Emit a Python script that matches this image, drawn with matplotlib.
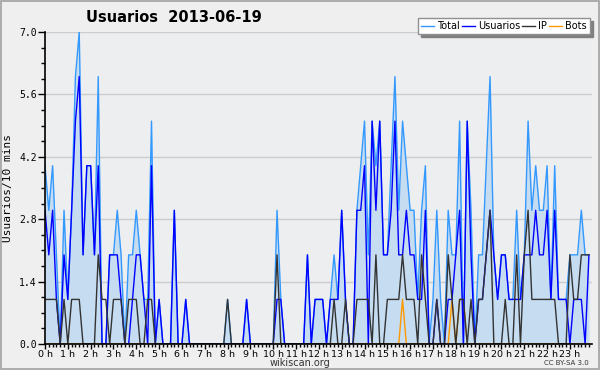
import matplotlib
matplotlib.use("Agg")
import matplotlib.pyplot as plt
import numpy as np
from matplotlib.patches import Rectangle
from matplotlib.ticker import MultipleLocator, FixedLocator

# 10-minute slots over the day (144 points)
total = [4,3,4,2,0,3,1,3,6,7,2,4,4,2,6,0,0,2,2,3,2,0,2,2,
         3,2,1,1,5,0,1,0,0,0,3,0,0,1,0,0,0,0,0,0,0,0,0,0,
         1,0,0,0,0,1,0,0,0,0,0,0,0,3,1,0,0,0,0,0,0,2,0,1,
         1,1,0,1,2,1,3,1,0,0,3,4,5,2,5,4,5,2,2,4,6,3,5,4,
         3,3,1,3,4,0,1,3,1,0,3,2,2,5,0,5,3,0,2,2,4,6,2,1,
         2,2,1,1,3,1,2,5,3,4,3,3,4,1,4,1,1,1,2,2,2,3,2,2]
usuarios = [3,2,3,1,0,2,1,3,5,6,2,4,4,2,4,0,0,2,2,2,1,0,0,1,
            2,2,1,0,4,0,1,0,0,0,3,0,0,1,0,0,0,0,0,0,0,0,0,0,
            0,0,0,0,0,1,0,0,0,0,0,0,0,1,1,0,0,0,0,0,0,2,0,1,
            1,1,0,1,1,1,3,1,0,0,3,3,4,0,5,3,5,2,2,3,5,2,2,3,
            2,2,1,1,3,0,0,1,0,0,1,1,2,3,0,5,2,0,1,1,2,3,2,1,
            2,2,1,1,1,1,2,2,2,3,2,2,3,1,3,1,1,1,0,1,1,1,0,2]
ip = [1,1,1,1,0,1,0,1,1,1,0,0,0,0,2,1,1,0,1,1,1,0,1,1,
      1,0,0,1,1,0,0,0,0,0,0,0,0,0,0,0,0,0,0,0,0,0,0,0,
      1,0,0,0,0,0,0,0,0,0,0,0,0,2,0,0,0,0,0,0,0,0,0,0,
      0,0,0,0,1,0,0,1,0,0,1,1,1,1,0,2,0,0,1,1,1,1,2,1,
      1,1,0,2,1,0,0,1,0,0,2,1,0,1,1,0,1,0,1,1,2,3,0,0,
      0,1,0,0,2,0,2,3,1,1,1,1,1,1,1,0,0,0,2,1,1,2,2,2]
bots = [0]*144
for k in (94, 107, 109, 110):
    bots[k] = 1

hour_labels = [f"{h} h" for h in range(24)]
y_ticks = [0.0, 1.4, 2.8, 4.2, 5.6, 7.0]

x = np.arange(144) / 6.0

fig = plt.figure(figsize=(6, 3.7), dpi=100)
fig.patch.set_facecolor("#efefef")
fig.patches.append(Rectangle((0.0015, 0.0025), 0.997, 0.995, transform=fig.transFigure,
                             fill=False, edgecolor="#a0a0a0", linewidth=1.2))

ax = fig.add_axes([0.075, 0.0703, 0.911, 0.8432])
ax.set_facecolor("#edeef0")

ax.fill_between(x, total, 0, color="#c6dcf0", linewidth=0, zorder=1)
l1, = ax.plot(x, total, color="#3399ff", linewidth=1.0, zorder=3, label="Total")
l2, = ax.plot(x, usuarios, color="#0000ff", linewidth=1.0, zorder=4, label="Usuarios")
l3, = ax.plot(x, ip, color="#333333", linewidth=1.0, zorder=5, label="IP")
l4, = ax.plot(x, bots, color="#ff9900", linewidth=1.0, zorder=2, label="Bots")

ax.set_xlim(0, 23.95)
ax.set_ylim(0, 7.0)

ax.yaxis.set_major_locator(FixedLocator(y_ticks))
ax.set_yticklabels([f"{v:.1f}" for v in y_ticks], fontsize=7, family="DejaVu Sans Mono")
ax.yaxis.set_minor_locator(MultipleLocator(0.35))
ax.xaxis.set_major_locator(FixedLocator(list(range(24))))
ax.set_xticklabels(hour_labels, fontsize=6.8)
ax.xaxis.set_minor_locator(MultipleLocator(1/6))
ax.tick_params(axis="y", which="major", length=5, width=1, direction="out", pad=1)
ax.tick_params(axis="y", which="minor", length=3, width=1, direction="out")
ax.tick_params(axis="x", which="major", length=3.5, width=1, direction="out", pad=0.5)
ax.tick_params(axis="x", which="minor", length=2.5, width=1, direction="out")

ax.grid(axis="y", which="major", color="#cccccc", linewidth=1.0, zorder=0)
ax.set_axisbelow(True)
for s in ("top", "right"):
    ax.spines[s].set_visible(False)
for s in ("left", "bottom"):
    ax.spines[s].set_linewidth(1.2)
    ax.spines[s].set_zorder(6)

ax.set_ylabel("Usuarios/10 mins", fontsize=8, family="DejaVu Sans Mono", labelpad=4)

fig.text(0.143, 0.953, "Usuarios  2013-06-19", fontsize=10.5, fontweight="bold",
         ha="left", va="center")

leg = ax.legend(handles=[l1, l2, l3, l4], ncol=4, loc="upper right",
                bbox_to_anchor=(0.983, 0.951), bbox_transform=fig.transFigure,
                fontsize=7, frameon=True, fancybox=False, shadow={"color": "#808080", "alpha": 1},
                handlelength=1.3, handletextpad=0.35, columnspacing=0.2,
                borderpad=0.3, borderaxespad=0)
leg.get_frame().set_edgecolor("#909090")
leg.get_frame().set_facecolor("white")
leg.get_frame().set_linewidth(1.0)

fig.text(0.5, 0.020, "wikiscan.org", fontsize=7, ha="center", va="center", color="#333333")
fig.text(0.982, 0.020, "CC BY-SA 3.0", fontsize=5, ha="right", va="center", color="#333333")

fig.savefig("out.png", dpi=100, facecolor=fig.get_facecolor())
